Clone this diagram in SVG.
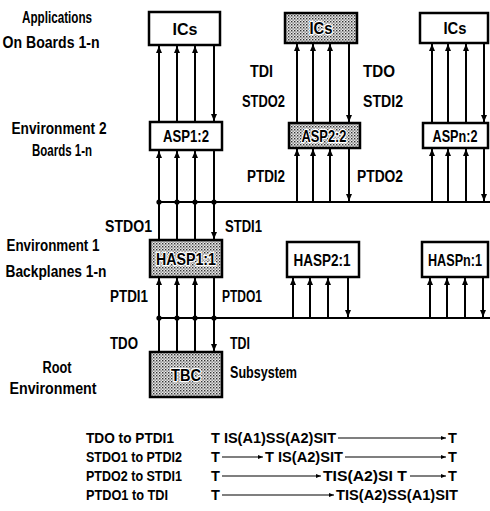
<svg xmlns="http://www.w3.org/2000/svg" width="490" height="511" viewBox="0 0 490 511">
<defs>
<pattern id="dots" width="3" height="3" patternUnits="userSpaceOnUse">
<rect width="3" height="3" fill="#e8e8e8"/>
<rect x="0" y="0" width="1.4" height="1.4" fill="#333"/>
<rect x="1.5" y="1.5" width="1.2" height="1.2" fill="#555"/>
</pattern>
<marker id="ah" markerUnits="userSpaceOnUse" markerWidth="8" markerHeight="8" refX="7" refY="4" orient="auto">
<path d="M0,1 L7,4 L0,7 z" fill="#000"/>
</marker>
<marker id="ta" markerUnits="userSpaceOnUse" markerWidth="6" markerHeight="6" refX="5" refY="3" orient="auto">
<path d="M0,1 L5,3 L0,5 z" fill="#000"/>
</marker>
</defs>
<style>
text{font-family:"Liberation Sans",Arial,sans-serif;font-weight:bold;font-size:16px;fill:#000}
.box{fill:#fff;stroke:#000;stroke-width:2.5}
.sh{fill:url(#dots);stroke:#000;stroke-width:2.5}
.bl{font-size:17px;text-anchor:middle}
.halo{paint-order:stroke;stroke:#fff;stroke-width:2.5;stroke-linejoin:round}
.lab{text-anchor:middle}
.w{stroke:#000;stroke-width:2;fill:none}
.a{stroke:#000;stroke-width:2;fill:none;marker-end:url(#ah)}
.t{font-size:14.5px}
.tl{stroke:#000;stroke-width:1.2;fill:none;marker-end:url(#ta)}
</style>

<g id="connectors">
<line class="a" x1="159" y1="122" x2="159" y2="46"/>
<line class="a" x1="177" y1="122" x2="177" y2="46"/>
<line class="a" x1="195" y1="122" x2="195" y2="46"/>
<line class="a" x1="214" y1="46" x2="214" y2="121"/>
<line class="a" x1="159" y1="240" x2="159" y2="151"/>
<line class="a" x1="177" y1="240" x2="177" y2="151"/>
<line class="a" x1="195" y1="240" x2="195" y2="151"/>
<line class="a" x1="214" y1="151" x2="214" y2="239"/>
<line class="a" x1="159" y1="352" x2="159" y2="278"/>
<line class="a" x1="177" y1="352" x2="177" y2="278"/>
<line class="a" x1="195" y1="352" x2="195" y2="278"/>
<line class="a" x1="214" y1="278" x2="214" y2="351"/>
<line class="w" x1="159" y1="202" x2="490" y2="202"/>
<line class="w" x1="159" y1="318" x2="490" y2="318"/>
<g fill="#000">
<circle cx="159" cy="202" r="2.6"/><circle cx="177" cy="202" r="2.6"/><circle cx="195" cy="202" r="2.6"/><circle cx="214" cy="202" r="2.6"/>
<circle cx="159" cy="318" r="2.6"/><circle cx="177" cy="318" r="2.6"/><circle cx="195" cy="318" r="2.6"/><circle cx="214" cy="318" r="2.6"/>
</g>
<line class="a" x1="297" y1="123" x2="297" y2="44"/>
<line class="a" x1="313" y1="123" x2="313" y2="44"/>
<line class="a" x1="330" y1="123" x2="330" y2="44"/>
<line class="a" x1="349" y1="44" x2="349" y2="122"/>
<line class="a" x1="297" y1="202" x2="297" y2="149"/>
<line class="a" x1="313" y1="202" x2="313" y2="149"/>
<line class="a" x1="330" y1="202" x2="330" y2="149"/>
<line class="a" x1="349" y1="149" x2="349" y2="201"/>
<line class="a" x1="432" y1="123" x2="432" y2="44"/>
<line class="a" x1="448" y1="123" x2="448" y2="44"/>
<line class="a" x1="466" y1="123" x2="466" y2="44"/>
<line class="a" x1="484" y1="44" x2="484" y2="122"/>
<line class="a" x1="432" y1="202" x2="432" y2="149"/>
<line class="a" x1="448" y1="202" x2="448" y2="149"/>
<line class="a" x1="466" y1="202" x2="466" y2="149"/>
<line class="a" x1="484" y1="149" x2="484" y2="201"/>
<line class="a" x1="293" y1="318" x2="293" y2="278"/>
<line class="a" x1="310" y1="318" x2="310" y2="278"/>
<line class="a" x1="328" y1="318" x2="328" y2="278"/>
<line class="a" x1="348" y1="278" x2="348" y2="317"/>
<line class="a" x1="430" y1="318" x2="430" y2="278"/>
<line class="a" x1="447" y1="318" x2="447" y2="278"/>
<line class="a" x1="465" y1="318" x2="465" y2="278"/>
<line class="a" x1="483" y1="278" x2="483" y2="317"/>
</g>

<g id="ics1"><rect class="box" x="149" y="12" width="71" height="33"/><text class="bl" x="185" y="35" textLength="25" lengthAdjust="spacingAndGlyphs">ICs</text></g>
<g id="ics2"><rect class="sh" x="285" y="13" width="72" height="30"/><text class="bl halo" x="321" y="34" textLength="23" lengthAdjust="spacingAndGlyphs">ICs</text></g>
<g id="icsn"><rect class="box" x="420" y="13" width="68" height="30"/><text class="bl" x="455" y="34" textLength="23" lengthAdjust="spacingAndGlyphs">ICs</text></g>
<g id="asp12"><rect class="box" x="150" y="122" width="72" height="28"/><text class="bl" x="186" y="142" textLength="46" lengthAdjust="spacingAndGlyphs">ASP1:2</text></g>
<g id="asp22"><rect class="sh" x="289" y="123" width="71" height="25"/><text class="bl halo" x="324" y="142" textLength="45" lengthAdjust="spacingAndGlyphs">ASP2:2</text></g>
<g id="aspn2"><rect class="box" x="423" y="123" width="65" height="25"/><text class="bl" x="455" y="142" textLength="45" lengthAdjust="spacingAndGlyphs">ASPn:2</text></g>
<g id="hasp11"><rect class="sh" x="150" y="240" width="72" height="37"/><text class="bl halo" x="186" y="265" textLength="60" lengthAdjust="spacingAndGlyphs">HASP1:1</text></g>
<g id="hasp21"><rect class="box" x="287" y="242" width="72" height="35"/><text class="bl" x="322" y="266" textLength="57" lengthAdjust="spacingAndGlyphs">HASP2:1</text></g>
<g id="haspn1"><rect class="box" x="422" y="242" width="66" height="35"/><text class="bl" x="455" y="266" textLength="54" lengthAdjust="spacingAndGlyphs">HASPn:1</text></g>
<g id="tbc"><rect class="sh" x="150" y="352" width="72" height="45"/><text class="bl halo" x="186" y="381" textLength="30" lengthAdjust="spacingAndGlyphs">TBC</text></g>

<g id="labels">
<text class="lab" x="57" y="23" textLength="70" lengthAdjust="spacingAndGlyphs">Applications</text>
<text class="lab" x="51" y="48" textLength="97" lengthAdjust="spacingAndGlyphs">On Boards 1-n</text>
<text class="lab" x="59" y="134" textLength="95" lengthAdjust="spacingAndGlyphs">Environment 2</text>
<text class="lab" x="62" y="156" textLength="60" lengthAdjust="spacingAndGlyphs">Boards 1-n</text>
<text class="lab" x="53" y="251" textLength="93" lengthAdjust="spacingAndGlyphs">Environment 1</text>
<text class="lab" x="56" y="277" textLength="101" lengthAdjust="spacingAndGlyphs">Backplanes 1-n</text>
<text class="lab" x="57" y="373" textLength="29" lengthAdjust="spacingAndGlyphs">Root</text>
<text class="lab" x="53" y="394" textLength="87" lengthAdjust="spacingAndGlyphs">Environment</text>
<text x="250" y="77" textLength="23" lengthAdjust="spacingAndGlyphs">TDI</text>
<text x="363" y="77" textLength="32" lengthAdjust="spacingAndGlyphs">TDO</text>
<text x="242" y="107" textLength="43" lengthAdjust="spacingAndGlyphs">STDO2</text>
<text x="363" y="107" textLength="40" lengthAdjust="spacingAndGlyphs">STDI2</text>
<text x="247" y="182" textLength="38" lengthAdjust="spacingAndGlyphs">PTDI2</text>
<text x="357" y="182" textLength="46" lengthAdjust="spacingAndGlyphs">PTDO2</text>
<text x="105" y="232" textLength="47" lengthAdjust="spacingAndGlyphs">STDO1</text>
<text x="225" y="232" textLength="37" lengthAdjust="spacingAndGlyphs">STDI1</text>
<text x="110" y="302" textLength="38" lengthAdjust="spacingAndGlyphs">PTDI1</text>
<text x="222" y="302" textLength="40" lengthAdjust="spacingAndGlyphs">PTDO1</text>
<text x="110" y="349" textLength="28" lengthAdjust="spacingAndGlyphs">TDO</text>
<text x="230" y="349" textLength="20" lengthAdjust="spacingAndGlyphs">TDI</text>
<text x="230" y="378" textLength="67" lengthAdjust="spacingAndGlyphs">Subsystem</text>
</g>

<g id="table">
<text class="t" x="86" y="443" textLength="88" lengthAdjust="spacingAndGlyphs">TDO to PTDI1</text>
<text class="t" x="86" y="462" textLength="96" lengthAdjust="spacingAndGlyphs">STDO1 to PTDI2</text>
<text class="t" x="86" y="481" textLength="96" lengthAdjust="spacingAndGlyphs">PTDO2 to STDI1</text>
<text class="t" x="86" y="500" textLength="82" lengthAdjust="spacingAndGlyphs">PTDO1 to TDI</text>

<text class="t" x="211" y="443" textLength="125" lengthAdjust="spacingAndGlyphs">T IS(A1)SS(A2)SIT</text>
<line class="tl" x1="338" y1="438" x2="446" y2="438"/>
<text class="t" x="448" y="443">T</text>

<text class="t" x="211" y="462">T</text>
<line class="tl" x1="222" y1="457" x2="263" y2="457"/>
<text class="t" x="265" y="462" textLength="78" lengthAdjust="spacingAndGlyphs">T IS(A2)SIT</text>
<line class="tl" x1="345" y1="457" x2="446" y2="457"/>
<text class="t" x="448" y="462">T</text>

<text class="t" x="211" y="481">T</text>
<line class="tl" x1="222" y1="476" x2="321" y2="476"/>
<text class="t" x="323" y="481" textLength="84" lengthAdjust="spacingAndGlyphs">TIS(A2)SI T</text>
<line class="tl" x1="410" y1="476" x2="446" y2="476"/>
<text class="t" x="448" y="481">T</text>

<text class="t" x="211" y="500">T</text>
<line class="tl" x1="222" y1="495" x2="334" y2="495"/>
<text class="t" x="336" y="500" textLength="122" lengthAdjust="spacingAndGlyphs">TIS(A2)SS(A1)SIT</text>
</g>
</svg>
